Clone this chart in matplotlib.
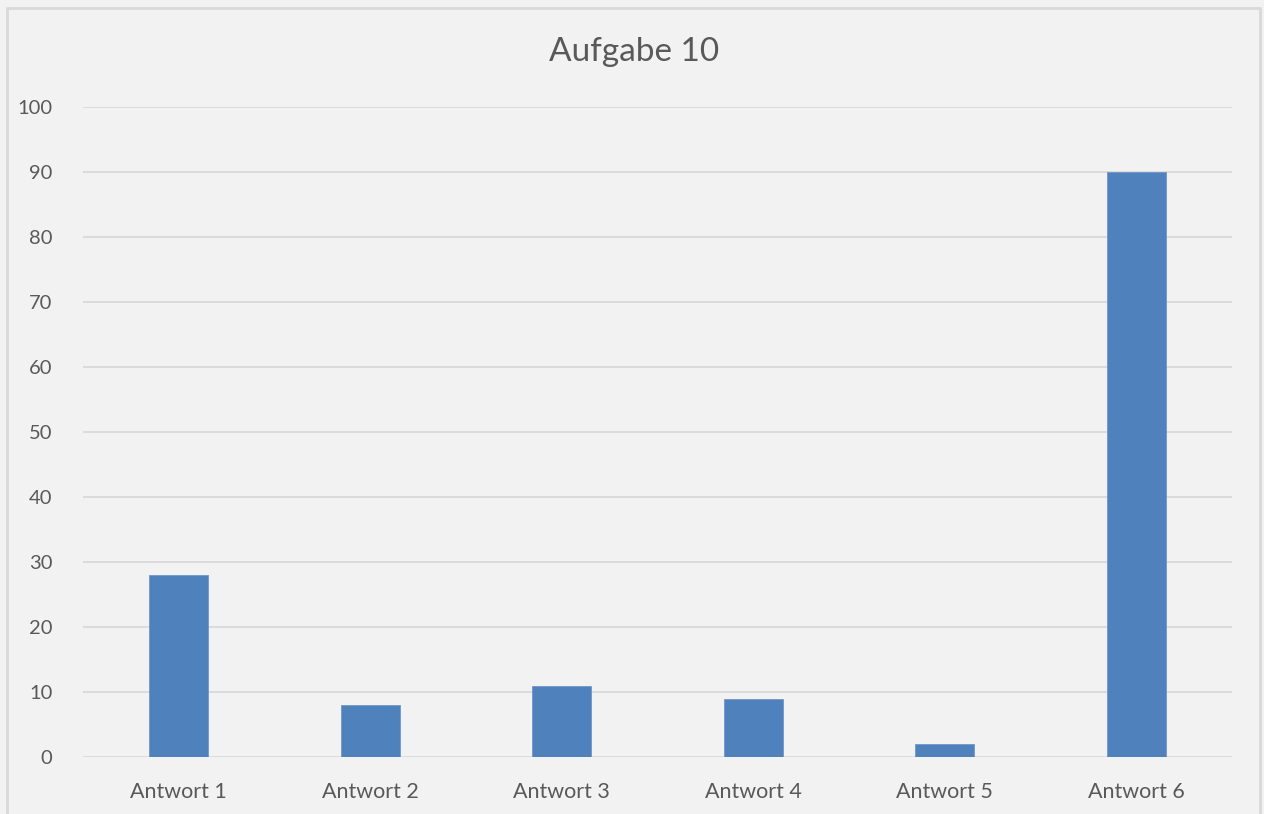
import matplotlib

matplotlib.use("Agg")
import matplotlib.pyplot as plt
from matplotlib.patches import Rectangle

categories = ["Antwort 1", "Antwort 2", "Antwort 3", "Antwort 4", "Antwort 5", "Antwort 6"]
values = [28, 8, 11, 9, 2, 90]
yticks = [0, 10, 20, 30, 40, 50, 60, 70, 80, 90, 100]

BG = "#f2f2f2"
TEXT = "#595959"
GRID = "#d9d9d9"
BAR = "#4f81bd"

plt.rcParams["font.family"] = ["Lato", "DejaVu Sans"]

W, H = 1264, 814
fig = plt.figure(figsize=(W / 100, H / 100), dpi=100)
fig.patch.set_facecolor(BG)

# chart-area frame (bottom edge runs off the image)
fig.patches.append(Rectangle((7 / W, -0.05), (1260 - 7) / W, (H - 8) / H + 0.05,
                             transform=fig.transFigure, fill=False,
                             edgecolor=GRID, linewidth=2))

ax = fig.add_axes([83 / W, 57 / H, (1232 - 83) / W, (757 - 107) / H])
ax.set_facecolor(BG)

x = range(len(categories))
ax.bar(x, values, width=0.31, color=BAR, edgecolor="#6f97c9", linewidth=0.6, zorder=3)

ax.set_xlim(-0.5, len(categories) - 0.5)
ax.set_ylim(0, 100)
ax.set_yticks(yticks)
ax.set_xticks(list(x))
ax.set_xticklabels(categories)
ax.tick_params(axis="both", length=0, labelcolor=TEXT)
ax.tick_params(axis="y", pad=22, labelsize=14.5)
ax.tick_params(axis="x", pad=18, labelsize=15.5)
ax.grid(axis="y", color=GRID, linewidth=1.3, zorder=0)
for s in ax.spines.values():
    s.set_visible(False)

fig.text(634 / W, (H - 52) / H, "Aufgabe 10", ha="center", va="center",
         fontsize=24, color=TEXT)

fig.savefig("out.png", dpi=100, facecolor=BG)
